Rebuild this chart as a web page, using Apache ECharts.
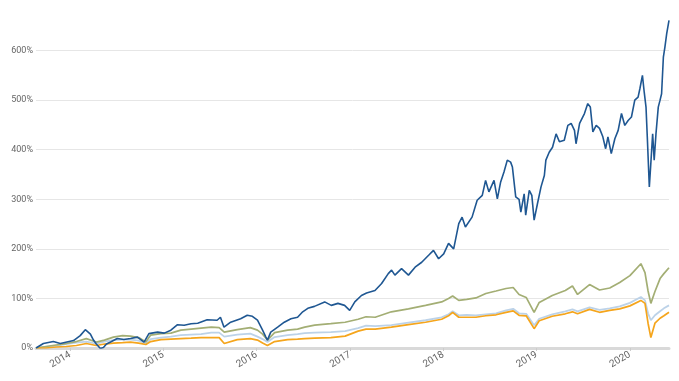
<!DOCTYPE html>
<html>
<head>
<meta charset="utf-8">
<script src="https://cdn.jsdelivr.net/npm/echarts@6/dist/echarts.min.js"></script>
<style>
html,body{margin:0;padding:0;background:#fff;}
#chart{width:679px;height:381px;}
</style>
</head>
<body>
<div id="chart"></div>
<script>
// Dark blue series (cumulative return, %)
const blueDates = ['2013-08-20','2013-09-18','2013-10-27','2013-11-23','2013-12-19','2014-01-14','2014-02-09','2014-03-01','2014-03-05','2014-03-21','2014-04-02','2014-04-13','2014-04-29','2014-05-11','2014-05-23','2014-06-08','2014-07-04','2014-07-30','2014-08-25','2014-09-21','2014-10-17','2014-11-05','2014-12-09','2015-01-04','2015-01-30','2015-02-25','2015-03-23','2015-04-19','2015-05-15','2015-06-21','2015-07-30','2015-08-12','2015-08-26','2015-09-21','2015-10-30','2015-11-25','2015-12-15','2016-01-04','2016-01-24','2016-02-06','2016-02-12','2016-02-25','2016-03-23','2016-04-18','2016-05-14','2016-06-09','2016-06-29','2016-07-19','2016-08-14','2016-09-23','2016-10-19','2016-11-14','2016-12-10','2016-12-30','2017-01-19','2017-02-14','2017-03-06','2017-03-12','2017-04-08','2017-05-04','2017-05-30','2017-06-12','2017-06-25','2017-07-21','2017-08-17','2017-09-12','2017-10-08','2017-11-04','2017-11-23','2017-12-13','2018-01-02','2018-01-21','2018-02-10','2018-03-02','2018-03-15','2018-03-28','2018-04-23','2018-05-13','2018-06-02','2018-06-15','2018-06-28','2018-07-18','2018-07-31','2018-08-13','2018-08-26','2018-09-08','2018-09-21','2018-09-28','2018-10-11','2018-10-24','2018-10-31','2018-11-13','2018-11-19','2018-12-03','2018-12-13','2018-12-22','2019-01-04','2019-01-18','2019-01-31','2019-02-06','2019-02-19','2019-03-04','2019-03-18','2019-03-31','2019-04-19','2019-05-03','2019-05-16','2019-05-29','2019-06-04','2019-06-18','2019-07-07','2019-07-20','2019-07-30','2019-08-09','2019-08-22','2019-09-04','2019-09-17','2019-09-28','2019-10-07','2019-10-20','2019-11-03','2019-11-16','2019-11-29','2019-12-12','2019-12-25','2020-01-07','2020-01-20','2020-02-02','2020-02-09','2020-02-19','2020-02-26','2020-03-04','2020-03-09','2020-03-17','2020-03-22','2020-03-30','2020-04-05','2020-04-12','2020-04-21','2020-04-28','2020-05-04','2020-05-11','2020-05-17','2020-05-24','2020-06-02'];
const blueValues = [0,9,13,9,12,15,25,37,39,28,16,8,-1,1,8,12,19,17,19,22,12,29,32,30,36,47,46,49,50,57,56,62,42,52,59,66,64,56,36,22,16,32,42,52,59,62,73,80,84,93,86,90,86,76,93,106,111,113,116,130,150,157,147,160,147,163,173,187,197,180,190,211,200,251,264,244,264,298,308,338,315,338,301,335,355,379,375,365,305,300,274,311,268,318,308,258,291,325,348,379,395,405,432,416,419,449,453,439,412,453,473,493,486,436,449,443,426,402,426,392,422,439,473,449,459,466,500,506,523,550,516,486,426,325,365,432,379,432,486,500,513,587,607,634,661];

// Shared dates for the three other series
const otherDates = ['2013-08-20','2013-09-28','2013-11-07','2013-12-16','2014-01-25','2014-03-05','2014-04-13','2014-05-15','2014-06-19','2014-07-25','2014-08-25','2014-09-26','2014-10-24','2014-11-12','2014-12-22','2015-01-30','2015-03-10','2015-04-19','2015-05-28','2015-07-07','2015-08-07','2015-08-27','2015-10-17','2015-12-07','2016-01-04','2016-01-24','2016-02-12','2016-03-11','2016-05-01','2016-06-09','2016-07-07','2016-08-15','2016-10-17','2016-12-12','2017-02-01','2017-03-04','2017-04-09','2017-06-11','2017-08-17','2017-10-23','2017-12-25','2018-01-21','2018-02-06','2018-03-02','2018-04-02','2018-05-08','2018-06-16','2018-07-26','2018-09-03','2018-10-01','2018-10-24','2018-11-21','2018-12-22','2019-01-11','2019-03-03','2019-04-23','2019-05-21','2019-06-10','2019-07-27','2019-09-04','2019-10-14','2019-11-22','2020-01-01','2020-02-13','2020-02-29','2020-03-12','2020-03-23','2020-04-08','2020-04-28','2020-05-13','2020-06-02'];
const greenValues = [0,3,6,9,13,19,12,16,22,25,24,21,12,26,29,30,36,38,40,42,41,32,37,41,36,28,16,31,36,38,42,46,49,52,58,63,62,73,79,86,93,100,105,96,98,101,110,115,120,122,108,102,72,92,106,116,125,108,128,117,121,132,146,170,152,115,90,114,140,150,162];
const lightBlueValues = [0,2,5,8,11,13,9,13,16,17,17,15,9,18,21,23,26,27,28,31,31,23,27,29,23,18,12,22,26,28,30,31,32,34,40,45,44,46,51,56,62,68,74,66,67,66,68,70,76,79,70,69,46,59,68,74,78,74,82,77,80,84,91,103,96,70,56,66,74,80,86];
const orangeValues = [0,0,2,3,5,9,5,8,10,11,12,10,7,13,17,18,19,20,21,21,21,9,17,19,16,10,5,13,17,18,19,20,21,24,34,38,38,42,47,52,58,65,72,62,62,62,65,67,72,75,66,65,39,55,64,69,73,69,78,72,76,79,85,96,90,50,21,50,60,65,72];

// Axis ticks
const yTicks = [0,100,200,300,400,500,600];

const pair = (dates, vals) => dates.map((d, i) => [d, vals[i]]);

const chart = echarts.init(document.getElementById('chart'), null, {renderer: 'canvas'});
const font = 'Roboto, "Open Sans", sans-serif';
chart.setOption({
  animation: false,
  grid: {left: 36, right: 10, top: 1, bottom: 33, containLabel: false},
  xAxis: {
    type: 'time',
    min: '2013-08-20',
    max: '2020-06-02',
    minInterval: 365 * 24 * 3600 * 1000,
    axisLine: {show: true, lineStyle: {color: '#d9d9d9', width: 3}},
    axisTick: {show: true, length: 3, lineStyle: {color: '#cccccc'}},
    splitLine: {show: false},
    axisLabel: {
      rotate: 30, color: '#666', fontSize: 10, fontFamily: font, margin: 6,
      showMinLabel: false, showMaxLabel: false,
      formatter: '{yyyy}'
    }
  },
  yAxis: {
    type: 'value',
    min: 0, max: 700, interval: 100,
    axisLine: {show: false},
    axisTick: {show: false},
    splitLine: {show: true, lineStyle: {color: ['#e6e6e6','#e6e6e6','#e6e6e6','#e6e6e6','#e6e6e6','#e6e6e6','#e6e6e6','rgba(0,0,0,0)'], width: 1}},
    axisLabel: {
      color: '#666', fontSize: 9, fontFamily: font, margin: 3,
      formatter: v => (yTicks.indexOf(v) >= 0 ? v + '%' : '')
    }
  },
  series: [
    {name: 'Light blue', type: 'line', data: pair(otherDates, lightBlueValues), showSymbol: false, lineStyle: {color: '#bcd2e8', width: 1.8}, itemStyle: {color: '#bcd2e8'}},
    {name: 'Green', type: 'line', data: pair(otherDates, greenValues), showSymbol: false, lineStyle: {color: '#a3ae74', width: 1.7}, itemStyle: {color: '#a3ae74'}},
    {name: 'Orange', type: 'line', data: pair(otherDates, orangeValues), showSymbol: false, lineStyle: {color: '#f5a51c', width: 1.7}, itemStyle: {color: '#f5a51c'}},
    {name: 'Blue', type: 'line', data: pair(blueDates, blueValues), showSymbol: false, lineStyle: {color: '#1f5792', width: 1.6}, itemStyle: {color: '#1f5792'}}
  ]
});
</script>
</body>
</html>
